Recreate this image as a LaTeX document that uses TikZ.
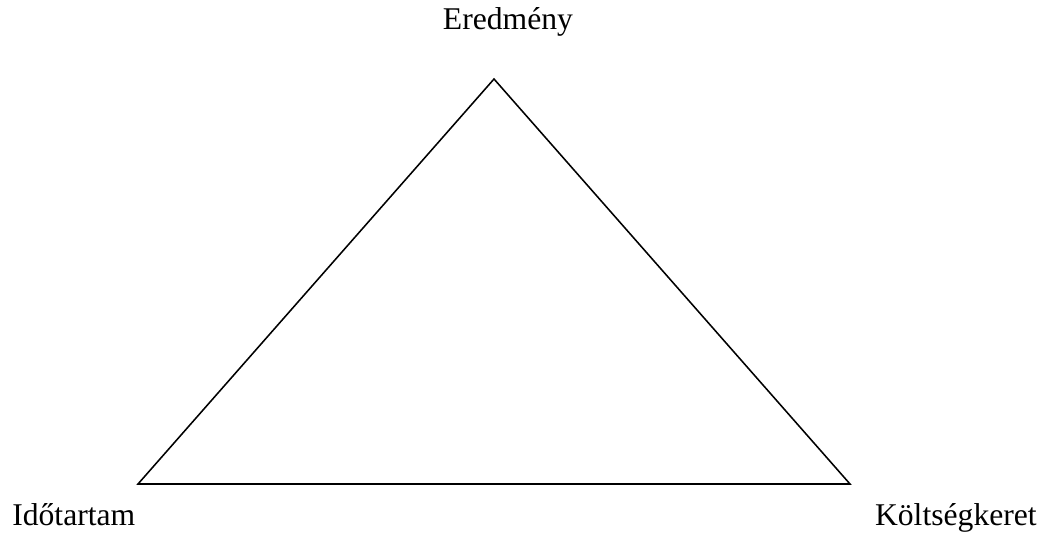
\documentclass[tikz,border=0pt]{standalone}
\usepackage{fontspec}
\setmainfont{Liberation Serif}
\usetikzlibrary{positioning}

\begin{document}
\begin{tikzpicture}[
    x=0.025cm, y=-0.025cm,
    font=\fontsize{22.5}{26}\selectfont,
    lbl/.style={inner sep=0pt, anchor=base}]
    \useasboundingbox (0,0) rectangle (1050,532);
    % vertices of the triangle
    \coordinate (top) at (494,79);
    \coordinate (left) at (138,484);
    \coordinate (right) at (850,484);
    \draw[line width=1.1pt, line join=miter] (left) -- (top) -- (right) -- cycle;
    % labels
    \node[lbl] (eredmeny) at (508,30) {Eredmény};
    \node[lbl, anchor=base west] (idotartam) at (12,525) {Időtartam};
    \node[lbl, anchor=base east] (koltseg) at (1037,525) {Költségkeret};
\end{tikzpicture}
\end{document}
